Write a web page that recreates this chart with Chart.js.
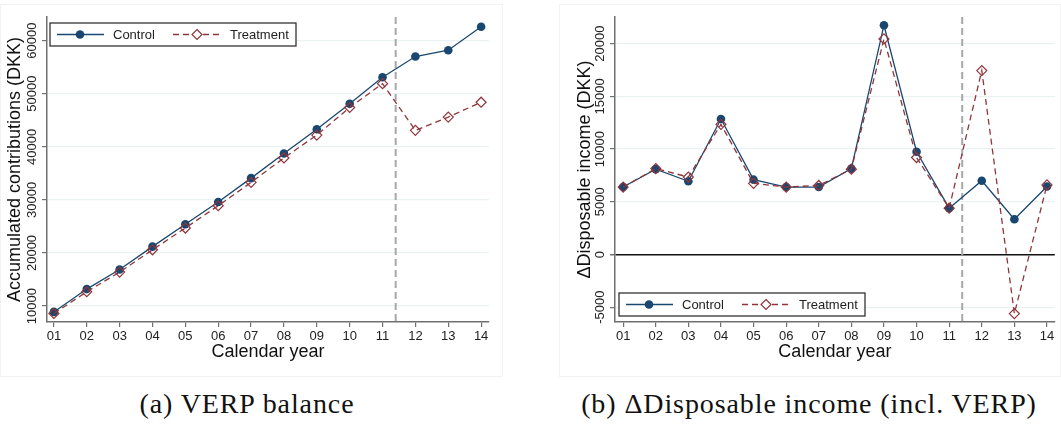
<!DOCTYPE html>
<html>
<head>
<meta charset="utf-8">
<script src="https://cdn.jsdelivr.net/npm/chart.js@4/dist/chart.umd.min.js"></script>
<style>
  body { margin: 0; background: #fff; width: 1061px; height: 424px; position: relative; overflow: hidden; }
  .panel { position: absolute; top: 0; width: 502px; height: 377px; }
  .frame { position: absolute; top: 4px; height: 373px; border: 1px solid #f2f2f2; box-sizing: border-box; }
  .caption { position: absolute; top: 388px; line-height: 32px; font-family: "Liberation Serif", "DejaVu Serif", serif; font-size: 28px; letter-spacing: 0.9px; color: #111; text-align: center; white-space: nowrap; }
</style>
</head>
<body>
<div class="frame" style="left:0; width:503px;"></div>
<div class="frame" style="left:559px; width:502px;"></div>
<div class="panel" style="left:0;"><canvas id="verp-chart" width="502" height="377"></canvas></div>
<div class="panel" style="left:559px;"><canvas id="disp-chart" width="502" height="377"></canvas></div>
<div class="caption" style="left:0; width:494px;">(a) VERP balance</div>
<div class="caption" style="left:559px; width:500px;">(b) ΔDisposable income (incl. VERP)</div>

<script>
// Calendar years on the x axis (01 .. 14)
const years = [1, 2, 3, 4, 5, 6, 7, 8, 9, 10, 11, 12, 13, 14];
const yearLabels = ['01', '02', '03', '04', '05', '06', '07', '08', '09', '10', '11', '12', '13', '14'];
const cutoffYear = 11.4;  // dashed vertical line

// (a) VERP balance - accumulated contributions (DKK)
const verpControl = [8900, 13200, 16900, 21200, 25400, 29600, 34100, 38750, 43300, 48100, 53100, 57000, 58200, 62600];
const verpTreatment = [8600, 12700, 16400, 20600, 24700, 28900, 33300, 37900, 42200, 47400, 51900, 43100, 45600, 48400];
const verpTicks = [10000, 20000, 30000, 40000, 50000, 60000];

// (b) change in disposable income (DKK)
const dispControl = [6400, 8100, 6950, 12850, 7100, 6400, 6400, 8150, 21750, 9750, 4400, 7000, 3350, 6450];
const dispTreatment = [6400, 8150, 7350, 12350, 6750, 6400, 6550, 8100, 20450, 9200, 4400, 17450, -5600, 6600];
const dispTicks = [-5000, 0, 5000, 10000, 15000, 20000];

const controlColor = '#1a476f';
const treatmentColor = '#90353b';
const sansFont = '"Liberation Sans", Arial, sans-serif';

// dashed line marking the reform
const cutoffLine = {
  id: 'cutoffLine',
  beforeDatasetsDraw(chart) {
    const { ctx, chartArea, scales: { x } } = chart;
    const px = x.getPixelForValue(cutoffYear);
    ctx.save();
    ctx.strokeStyle = '#a8a8a8';
    ctx.lineWidth = 2;
    ctx.setLineDash([7, 4]);
    ctx.beginPath();
    ctx.moveTo(px, chartArea.top);
    ctx.lineTo(px, chartArea.bottom);
    ctx.stroke();
    ctx.restore();
  }
};

// y tick labels are rotated like in Stata
const rotatedTicks = {
  id: 'rotatedTicks',
  afterDraw(chart, args, opts) {
    const { ctx, scales: { y } } = chart;
    ctx.save();
    ctx.font = '13px ' + sansFont;
    ctx.fillStyle = '#222';
    ctx.textAlign = 'center';
    ctx.textBaseline = 'middle';
    y.ticks.forEach(t => {
      ctx.save();
      ctx.translate(opts.x, y.getPixelForValue(t.value));
      ctx.rotate(-Math.PI / 2);
      ctx.fillText(String(t.value), 0, 0);
      ctx.restore();
    });
    ctx.restore();
  }
};

// boxed legend inside the plot area
const boxLegend = {
  id: 'boxLegend',
  afterDraw(chart, args, opts) {
    const { ctx, chartArea } = chart;
    const bx = chartArea.left + opts.dx;
    const by = opts.fromBottom ? chartArea.bottom - opts.dy : chartArea.top + opts.dy;
    const w = 246, h = 23, cy = by + h / 2;
    ctx.save();
    ctx.fillStyle = '#fff';
    ctx.fillRect(bx, by, w, h);
    ctx.strokeStyle = '#333';
    ctx.lineWidth = 1.3;
    ctx.strokeRect(bx, by, w, h);

    // control entry
    ctx.strokeStyle = controlColor;
    ctx.lineWidth = 1.3;
    ctx.beginPath();
    ctx.moveTo(bx + 7, cy);
    ctx.lineTo(bx + 54, cy);
    ctx.stroke();
    ctx.fillStyle = controlColor;
    ctx.beginPath();
    ctx.arc(bx + 30, cy, 4.3, 0, Math.PI * 2);
    ctx.fill();

    // treatment entry
    ctx.strokeStyle = treatmentColor;
    ctx.setLineDash([6, 4]);
    ctx.beginPath();
    ctx.moveTo(bx + 123, cy);
    ctx.lineTo(bx + 172, cy);
    ctx.stroke();
    ctx.setLineDash([]);
    ctx.fillStyle = '#fff';
    ctx.lineWidth = 1.2;
    ctx.beginPath();
    ctx.moveTo(bx + 147, cy - 5);
    ctx.lineTo(bx + 152, cy);
    ctx.lineTo(bx + 147, cy + 5);
    ctx.lineTo(bx + 142, cy);
    ctx.closePath();
    ctx.fill();
    ctx.stroke();

    ctx.fillStyle = '#222';
    ctx.font = '13px ' + sansFont;
    ctx.textBaseline = 'middle';
    ctx.fillText('Control', bx + 63, cy + 0.5);
    ctx.fillText('Treatment', bx + 180, cy + 0.5);
    ctx.restore();
  }
};

function makeChart(canvasId, controlData, treatmentData, yMin, yMax, yTicks, yTitle, cfg) {
  const ctx = document.getElementById(canvasId).getContext('2d');
  return new Chart(ctx, {
    type: 'line',
    data: {
      datasets: [{
        label: 'Control',
        data: years.map((yr, i) => ({ x: yr, y: controlData[i] })),
        borderColor: controlColor,
        backgroundColor: controlColor,
        borderWidth: 1.3,
        pointStyle: 'circle',
        pointRadius: 4.3,
        pointBorderWidth: 0,
        tension: 0,
        order: 1
      }, {
        label: 'Treatment',
        data: years.map((yr, i) => ({ x: yr, y: treatmentData[i] })),
        borderColor: treatmentColor,
        backgroundColor: 'rgba(255,255,255,0)',
        borderWidth: 1.3,
        borderDash: [6, 4],
        pointStyle: 'rectRot',
        pointRadius: 5,
        pointBorderWidth: 1.2,
        pointBackgroundColor: 'rgba(255,255,255,0)',
        tension: 0,
        order: 0
      }]
    },
    options: {
      responsive: false,
      animation: false,
      layout: { padding: { top: 17, right: cfg.padRight, bottom: 0, left: 0 } },
      plugins: {
        legend: { display: false },
        tooltip: { enabled: false },
        rotatedTicks: { x: cfg.tickX },
        boxLegend: cfg.legend
      },
      scales: {
        x: {
          type: 'linear',
          min: cfg.xMin,
          max: 14.24,
          afterBuildTicks: scale => { scale.ticks = years.map(v => ({ value: v })); },
          afterFit: scale => { scale.height = 55; },
          ticks: {
            font: { size: 13, family: sansFont },
            color: '#222',
            padding: 2,
            maxRotation: 0,
            callback: v => yearLabels[years.indexOf(v)]
          },
          grid: { display: true, drawOnChartArea: false, drawTicks: true, tickLength: 5, color: '#707070', lineWidth: 1.2 },
          border: { display: true, color: '#707070', width: 1.5 },
          title: {
            display: true,
            text: 'Calendar year',
            font: { size: 18, family: sansFont },
            color: '#111',
            padding: { top: 0, bottom: 14 }
          }
        },
        y: {
          min: yMin,
          max: yMax,
          afterBuildTicks: scale => { scale.ticks = yTicks.map(v => ({ value: v })); },
          afterFit: scale => { scale.width = cfg.yWidth; },
          ticks: { display: false },
          grid: {
            color: c => (c.tick && c.tick.value === 0) ? '#111' : '#eaf2f3',
            lineWidth: c => (c.tick && c.tick.value === 0) ? 1.5 : 1.2,
            tickColor: '#707070',
            tickLength: 5
          },
          border: { display: true, color: '#707070', width: 1.5 },
          title: {
            display: true,
            text: yTitle,
            font: { size: 18, family: sansFont },
            color: '#111',
            padding: { top: cfg.titlePad, bottom: 0 }
          }
        }
      }
    },
    plugins: [cutoffLine, rotatedTicks, boxLegend]
  });
}

makeChart('verp-chart', verpControl, verpTreatment, 7000, 64450, verpTicks,
  'Accumulated contributions (DKK)',
  { padRight: 13, xMin: 0.79, yWidth: 47, tickX: 32, titlePad: 4,
    legend: { dx: 3, dy: 6, fromBottom: false } });

makeChart('disp-chart', dispControl, dispTreatment, -6400, 22530, dispTicks,
  'ΔDisposable income (DKK)',
  { padRight: 3, xMin: 0.75, yWidth: 56, tickX: 41, titlePad: 15,
    legend: { dx: 4, dy: 29, fromBottom: true } });
</script>
</body>
</html>
